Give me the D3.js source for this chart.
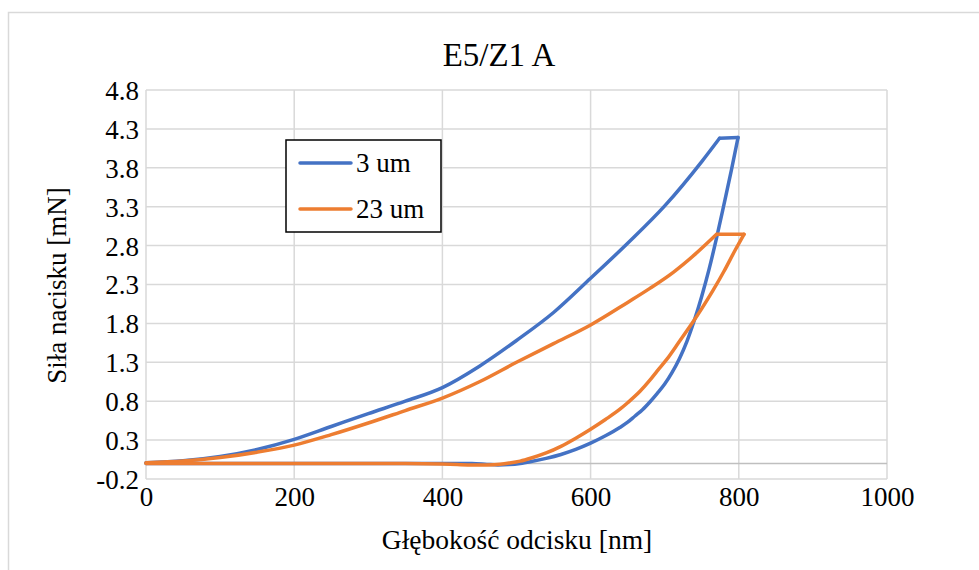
<!DOCTYPE html>
<html>
<head>
<meta charset="utf-8">
<script src="https://cdn.jsdelivr.net/npm/d3@7"></script>
<style>
  html, body { margin: 0; padding: 0; background: #ffffff; }
</style>
</head>
<body>
<script>
// Nanoindentation load–depth curves: loading branch, hold at peak, unloading branch
// 3 um
const depth3Load  = [0, 50, 100, 150, 200, 250, 300, 350, 400, 450, 500, 550, 600, 650, 700, 750, 774];
const force3Load  = [0.01, 0.035, 0.09, 0.18, 0.31, 0.475, 0.64, 0.80, 0.975, 1.25, 1.58, 1.94, 2.38, 2.83, 3.31, 3.88, 4.18];
const depth3Unload = [799, 790, 780, 770, 760, 750, 740, 730, 720, 710, 700, 690, 680, 670, 660, 650, 640, 620, 600, 580, 560, 540, 520, 505, 490, 475, 460, 440, 300, 0];
const force3Unload = [4.19, 3.77, 3.33, 2.90, 2.50, 2.15, 1.84, 1.57, 1.35, 1.17, 1.02, 0.90, 0.79, 0.69, 0.61, 0.53, 0.465, 0.355, 0.26, 0.18, 0.115, 0.065, 0.025, 0.0, -0.015, -0.02, -0.012, 0.0, 0.0, 0.0];

// 23 um
const depth23Load  = [0, 50, 100, 150, 200, 250, 300, 350, 400, 450, 500, 550, 600, 650, 680, 712, 740, 770];
const force23Load  = [0.01, 0.03, 0.075, 0.145, 0.236, 0.37, 0.52, 0.68, 0.84, 1.05, 1.30, 1.54, 1.78, 2.07, 2.25, 2.46, 2.68, 2.945];
const depth23Unload = [807, 795, 780, 765, 750, 739, 720, 703, 690, 680, 667, 650, 640, 620, 600, 580, 560, 540, 520, 505, 490, 478, 460, 441, 420, 400, 350, 0];
const force23Unload = [2.945, 2.74, 2.47, 2.22, 1.99, 1.83, 1.57, 1.34, 1.19, 1.07, 0.93, 0.78, 0.70, 0.565, 0.44, 0.325, 0.22, 0.135, 0.07, 0.03, 0.005, -0.01, -0.02, -0.02, -0.015, -0.008, 0.0, 0.0];

const seriesNames = ["3 um", "23 um"];
const seriesColors = ["#4472C4", "#ED7D31"];
const xTicks = [0, 200, 400, 600, 800, 1000];
const yTicks = [-0.2, 0.3, 0.8, 1.3, 1.8, 2.3, 2.8, 3.3, 3.8, 4.3, 4.8];

const FONT = "Liberation Serif";
const W = 979, H = 570;
const plot = { left: 146, right: 887, top: 90, bottom: 479 };

const svg = d3.select("body").append("svg")
  .attr("width", W).attr("height", H)
  .attr("viewBox", `0 0 ${W} ${H}`)
  .attr("font-family", FONT);

svg.append("rect").attr("width", W).attr("height", H).attr("fill", "#fff");

// chart area frame
svg.append("rect")
  .attr("x", 8.5).attr("y", 12.5)
  .attr("width", W + 10).attr("height", H + 10)
  .attr("fill", "none").attr("stroke", "#d9d9d9").attr("stroke-width", 1.5);

const x = d3.scaleLinear().domain([0, 1000]).range([plot.left, plot.right]);
const y = d3.scaleLinear().domain([-0.2, 4.8]).range([plot.bottom, plot.top]);

// gridlines
const grid = svg.append("g");
grid.selectAll(".hg").data(yTicks).join("line")
  .attr("x1", plot.left).attr("x2", plot.right)
  .attr("y1", d => y(d)).attr("y2", d => y(d))
  .attr("stroke", "#d9d9d9").attr("stroke-width", 1.5);
grid.selectAll(".vg").data(xTicks).join("line")
  .attr("y1", plot.top).attr("y2", plot.bottom)
  .attr("x1", d => x(d)).attr("x2", d => x(d))
  .attr("stroke", "#d9d9d9").attr("stroke-width", 1.5);

// horizontal axis line at zero
svg.append("line")
  .attr("x1", plot.left).attr("x2", plot.right)
  .attr("y1", y(0)).attr("y2", y(0))
  .attr("stroke", "#bfbfbf").attr("stroke-width", 1.5);

// tick labels via axes (no domain/tick lines)
const xAxis = svg.append("g")
  .attr("transform", `translate(0,${plot.bottom})`)
  .call(d3.axisBottom(x).tickValues(xTicks).tickSize(0).tickPadding(0).tickFormat(d3.format("d")));
xAxis.attr("font-family", FONT);
xAxis.select(".domain").remove();
xAxis.selectAll("text").attr("dy", null).attr("y", 27)
  .attr("font-family", FONT).attr("font-size", 27).attr("fill", "#000");

const yAxis = svg.append("g")
  .attr("transform", `translate(${plot.left},0)`)
  .call(d3.axisLeft(y).tickValues(yTicks).tickSize(0).tickPadding(0));
yAxis.attr("font-family", FONT);
yAxis.select(".domain").remove();
yAxis.selectAll("text").attr("x", -7).attr("dy", "0.35em")
  .attr("font-family", FONT).attr("font-size", 27).attr("fill", "#000")
  .text(d => d.toFixed(1));

// series: loading and unloading are smooth branches, the hold is a straight segment
const smooth = d3.line()
  .x(d => x(d[0])).y(d => y(d[1]))
  .curve(d3.curveMonotoneX);
const straight = d3.line()
  .x(d => x(d[0])).y(d => y(d[1]));

function drawSeries(dLoad, fLoad, dUn, fUn, color) {
  const load = dLoad.map((d, i) => [d, fLoad[i]]);
  const unload = dUn.map((d, i) => [d, fUn[i]]).sort((a, b) => a[0] - b[0]);
  const hold = [load[load.length - 1], [dUn[0], fUn[0]]];
  const g = svg.append("g")
    .attr("fill", "none").attr("stroke", color).attr("stroke-width", 3.5)
    .attr("stroke-linejoin", "round").attr("stroke-linecap", "round");
  g.append("path").attr("d", smooth(load));
  g.append("path").attr("d", straight(hold));
  g.append("path").attr("d", smooth(unload));
}
drawSeries(depth3Load, force3Load, depth3Unload, force3Unload, seriesColors[0]);
drawSeries(depth23Load, force23Load, depth23Unload, force23Unload, seriesColors[1]);

// title
svg.append("text")
  .attr("x", 499).attr("y", 66)
  .attr("text-anchor", "middle")
  .attr("font-family", FONT).attr("font-size", 33)
  .text("E5/Z1 A");

// axis titles
svg.append("text")
  .attr("x", 517).attr("y", 549)
  .attr("text-anchor", "middle")
  .attr("font-family", FONT).attr("font-size", 27.5)
  .text("Głębokość odcisku [nm]");

svg.append("text")
  .attr("transform", `translate(66,${(plot.top + plot.bottom) / 2 + 1}) rotate(-90)`)
  .attr("text-anchor", "middle")
  .attr("font-family", FONT).attr("font-size", 27)
  .text("Siła nacisku [mN]");

// legend
const lg = svg.append("g");
lg.append("rect")
  .attr("x", 286).attr("y", 140)
  .attr("width", 155).attr("height", 92)
  .attr("fill", "#fff").attr("stroke", "#000").attr("stroke-width", 1.5);
const rows = lg.selectAll(".row").data(seriesNames).join("g")
  .attr("transform", (d, i) => `translate(0,${163 + i * 46})`);
rows.append("line")
  .attr("x1", 300).attr("x2", 351)
  .attr("stroke", (d, i) => seriesColors[i]).attr("stroke-width", 3.5)
  .attr("stroke-linecap", "round");
rows.append("text")
  .attr("x", 356).attr("y", 9)
  .attr("font-family", FONT).attr("font-size", 27)
  .text(d => d);
</script>
</body>
</html>
